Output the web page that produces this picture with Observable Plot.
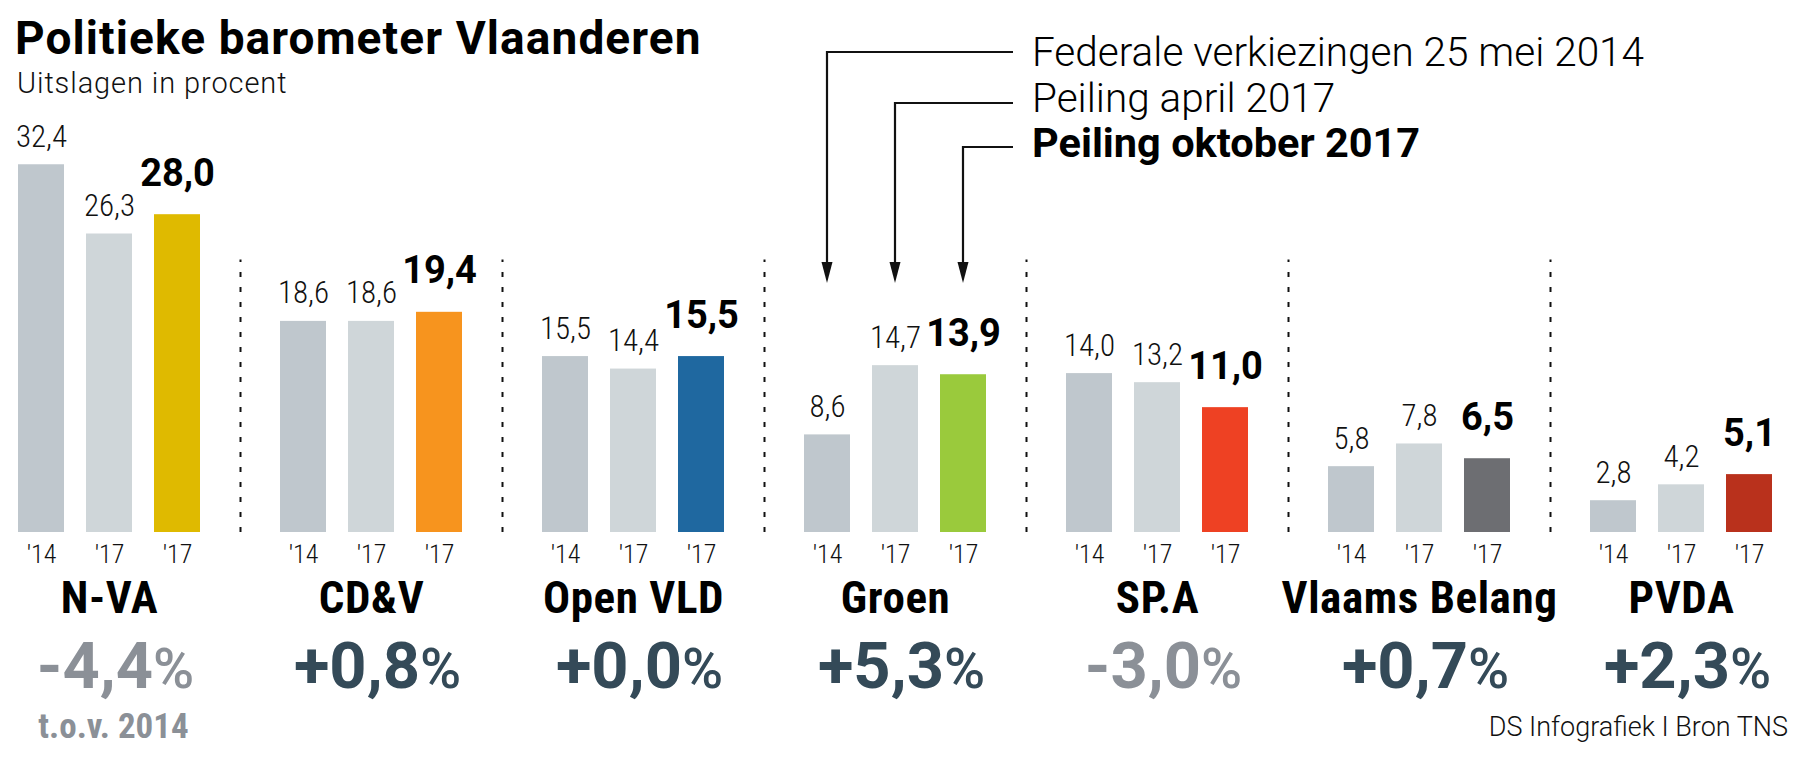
<!DOCTYPE html>
<html>
<head>
<meta charset="utf-8">
<script src="https://cdn.jsdelivr.net/npm/d3@7"></script>
<script src="https://cdn.jsdelivr.net/npm/@observablehq/plot@0.6"></script>
<style>
  body { margin: 0; background: #fff; }
  #chart { position: relative; width: 1810px; height: 765px; overflow: hidden; }
</style>
</head>
<body>
<div id="chart"></div>
<script>
// ---------- data ----------
const parties = ["N-VA", "CD&V", "Open VLD", "Groen", "SP.A", "Vlaams Belang", "PVDA"];
const series = ["2014", "apr2017", "okt2017"];
const seriesLabels = ["Federale verkiezingen 25 mei 2014", "Peiling april 2017", "Peiling oktober 2017"];
const tickLabels = ["'14", "'17", "'17"];
const values2014 = [32.4, 18.6, 15.5, 8.6, 14.0, 5.8, 2.8];
const valuesApr2017 = [26.3, 18.6, 14.4, 14.7, 13.2, 7.8, 4.2];
const valuesOkt2017 = [28.0, 19.4, 15.5, 13.9, 11.0, 6.5, 5.1];
const partyColors = ["#dfba00", "#f7941e", "#1f68a0", "#9aca3c", "#ee4123", "#6d6e72", "#b9311c"];
const greyColors = ["#bfc7cd", "#cfd6d9"];
const title = "Politieke barometer Vlaanderen";
const subtitle = "Uitslagen in procent";
const caption = "DS Infografiek I Bron TNS";
const baseNote = "t.o.v. 2014";
const legendParty = "Groen";

// ---------- fonts ----------
function pickFont(cands, fallback) {
  const c = document.createElement("canvas").getContext("2d");
  const s = "Politieke barometer 0123456789 Vlaanderen";
  c.font = "40px monospace"; const w0 = c.measureText(s).width;
  c.font = "40px serif"; const w1 = c.measureText(s).width;
  for (const f of cands) {
    c.font = `40px "${f}", monospace`; const a = c.measureText(s).width;
    c.font = `40px "${f}", serif`; const b = c.measureText(s).width;
    if (a !== w0 || b !== w1) return f;
  }
  return fallback;
}
const COND = `"${pickFont(["Roboto Condensed", "Liberation Sans Narrow", "Arial Narrow", "DejaVu Sans Condensed"], "Roboto")}", sans-serif`;
const WIDE = `Roboto, "Open Sans", sans-serif`;

// ---------- derived tables ----------
const seriesValues = [values2014, valuesApr2017, valuesOkt2017];
const rows = parties.flatMap((p, i) => series.map((s, j) => ({
  party: p, series: s, value: seriesValues[j][i],
  color: j < 2 ? greyColors[j] : partyColors[i], latest: j === 2
})));
const fmt = v => v.toFixed(1).replace(".", ",");
const changes = parties.map((p, i) => {
  const d = valuesOkt2017[i] - values2014[i];
  return {party: p, delta: d, label: (d < 0 ? "-" : "+") + fmt(Math.abs(d)) + "%"};
});
const negColor = "#8b9097", posColor = "#344a58";
const pxPerUnit = 11.35, baseline = 532;
const dividerTop = 24;

const plot = Plot.plot({
  width: 1810, height: 765,
  marginLeft: 16, marginRight: 36, marginTop: 0, marginBottom: 765 - baseline,
  style: {fontFamily: COND, background: "#fff", color: "#000", overflow: "visible"},
  fx: {domain: parties, paddingInner: 0.305, paddingOuter: 0, axis: null, label: null},
  x: {domain: series, paddingInner: 0.326, paddingOuter: 0, label: null},
  y: {domain: [0, baseline / pxPerUnit], axis: null},
  color: {type: "identity"},
  marks: [
    Plot.barY(rows, {fx: "party", x: "series", y: "value", fill: "color"}),
    Plot.text(rows.filter(d => !d.latest), {fx: "party", x: "series", y: "value", text: d => fmt(d.value),
      dy: -18, lineAnchor: "bottom", fontSize: 31, fontWeight: 300, fill: "#111"}),
    Plot.text(rows.filter(d => d.latest), {fx: "party", x: "series", y: "value", text: d => fmt(d.value),
      dy: -29, lineAnchor: "bottom", fontSize: 38, fontWeight: 700, fill: "#000", fontFamily: WIDE}),
    Plot.axisX({tickSize: 0, tickPadding: 30, lineAnchor: "bottom", fontSize: 26, fontWeight: 300, fill: "#111",
      tickFormat: d => tickLabels[series.indexOf(d)], label: null}),
    Plot.ruleX(parties.slice(1), {fx: d => d, x: () => series[0], y1: 0, y2: dividerTop, dx: -63,
      stroke: "#111", strokeWidth: 2, strokeDasharray: "5,10"}),
    Plot.text(parties, {fx: d => d, text: d => d, frameAnchor: "bottom", dy: 80, lineAnchor: "bottom",
      fontSize: 45, fontWeight: 700, fill: "#000"}),
    Plot.text(changes, {fx: "party", text: "label", frameAnchor: "bottom", dy: 155, dx: 6, lineAnchor: "bottom",
      fontSize: 65, fontWeight: 700, fontFamily: WIDE, fill: d => d.delta < 0 ? negColor : posColor}),
    Plot.text([parties[0]], {fx: d => d, text: () => baseNote, frameAnchor: "bottom", dy: 205, dx: 4, lineAnchor: "bottom",
      fontSize: 35, fontWeight: 700, fill: negColor})
  ]
});

document.getElementById("chart").appendChild(plot);
const svg = d3.select(plot);

// wider party names (letter spacing) and percent sign lighter & smaller
svg.selectAll("text").filter(function() { return parties.includes(this.textContent); })
  .attr("letter-spacing", 0.6);
svg.selectAll("text").filter(function() { return this.childElementCount === 0 && /%$/.test(this.textContent); })
  .each(function() {
    const t = this.textContent; this.textContent = "";
    const s = d3.select(this);
    s.append("tspan").text(t.slice(0, -1));
    s.append("tspan").text("%").attr("font-weight", 500).attr("font-size", "0.86em");
  });

// legend (elbow arrows) using Plot's scales
const fxS = plot.scale("fx"), xS = plot.scale("x");
const bw = xS.bandwidth;
const cx = s => fxS.apply(legendParty) + xS.apply(s) - xS.range[0] + bw / 2;
const levels = [52, 103, 147];
const textBase = [66, 111.5, 156.5];
const tipY = 283, headLen = 21, headHalf = 5.5;
const lineEnd = cx(series[2]) + 50;
const lg = svg.append("g").attr("font-family", WIDE).attr("text-anchor", "start");
series.forEach((s, i) => {
  const x = cx(s);
  lg.append("path").attr("d", `M${x},${tipY - headLen + 2}V${levels[i]}H${lineEnd}`)
    .attr("fill", "none").attr("stroke", "#111").attr("stroke-width", 2.2);
  lg.append("path").attr("d", `M${x},${tipY}L${x - headHalf},${tipY - headLen}L${x + headHalf},${tipY - headLen}Z`)
    .attr("fill", "#111");
  lg.append("text").attr("x", lineEnd + 19).attr("y", textBase[i]).text(seriesLabels[i])
    .attr("font-size", i === 2 ? 41.5 : 40.5).attr("font-weight", i === 2 ? 700 : 300).attr("fill", "#000");
});

// title, subtitle, caption
svg.append("text").attr("x", 15).attr("y", 53.5).attr("text-anchor", "start").text(title)
  .attr("font-family", WIDE).attr("font-size", 46).attr("letter-spacing", 1.1).attr("font-weight", 700).attr("fill", "#000");
svg.append("text").attr("x", 17).attr("y", 93).attr("text-anchor", "start").text(subtitle)
  .attr("font-family", WIDE).attr("font-size", 29).attr("letter-spacing", 0.9).attr("font-weight", 300).attr("fill", "#111");
svg.append("text").attr("x", 1788).attr("y", 736).attr("text-anchor", "end").text(caption)
  .attr("font-family", WIDE).attr("font-size", 27).attr("font-weight", 300).attr("fill", "#111");
</script>
</body>
</html>
